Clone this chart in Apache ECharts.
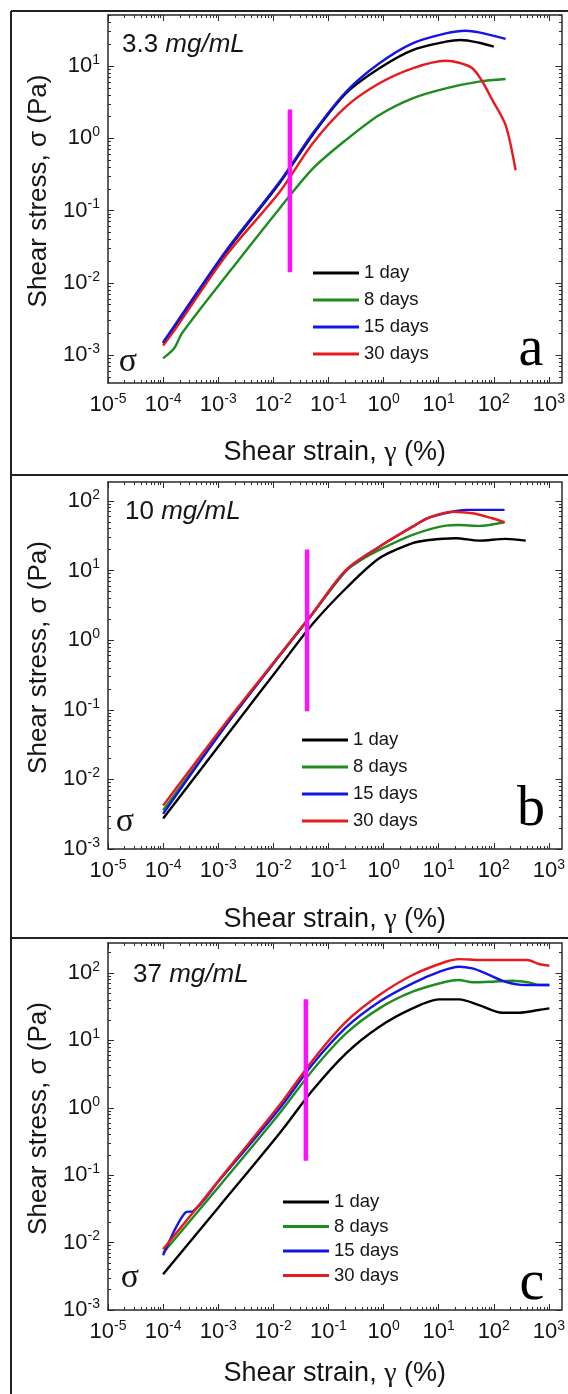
<!DOCTYPE html>
<html><head><meta charset="utf-8">
<script src="https://cdn.jsdelivr.net/npm/echarts@6/dist/echarts.min.js"></script>
<style>html,body{margin:0;padding:0;background:#fff}#c{width:568px;height:1394px}</style>
</head><body><div id="c"></div><script>
// ---------- data ----------
const seriesNames = ['1 day', '8 days', '15 days', '30 days'];
const panelTitles = ['3.3 ', '10 ', '37 '];
const panelLetters = ['a', 'b', 'c'];
const xTickValues = [1e-5, 1e-4, 1e-3, 1e-2, 1e-1, 1, 10, 100, 1000];
const yTickValuesA = [1e-3, 1e-2, 1e-1, 1, 10];
const yTickValuesB = [1e-3, 1e-2, 1e-1, 1, 10, 100];
const yTickValuesC = [1e-3, 1e-2, 1e-1, 1, 10, 100];
const xRange = [1e-5, 1700];
const yRangeA = [4.1e-4, 50.8];
const yRangeB = [1e-3, 187];
const yRangeC = [1e-3, 279];

// panel a (3.3 mg/mL)
const a1day = [[1e-4,1.45e-3],[1.8e-4,2.8e-3],[1.4e-3,0.027],[0.013,0.24],[0.052,1.12],[0.209,4.2],[0.84,9.3],[3.36,16.6],[13.5,21.7],[25,22.9],[54,21],[100,18.5]];
const a8days = [[1e-4,9e-4],[1.6e-4,1.25e-3],[2.2e-4,2.0e-3],[1.4e-3,0.0125],[0.013,0.107],[0.052,0.38],[0.209,0.95],[0.84,2.1],[3.36,3.57],[13.5,4.9],[54,6.07],[164,6.6]];
const a15days = [[1e-4,1.5e-3],[1.8e-4,2.9e-3],[1.4e-3,0.028],[0.013,0.25],[0.052,1.17],[0.209,4.4],[0.84,10.9],[3.36,20.6],[13.5,28.3],[31,30.8],[54,29.2],[164,23.7]];
const a30days = [[1e-4,1.35e-3],[1.8e-4,2.5e-3],[1.4e-3,0.024],[0.013,0.18],[0.052,0.85],[0.209,2.74],[0.84,5.76],[3.36,9.3],[13.5,11.8],[23.5,11.1],[41,9.3],[62,6.1],[94,3.4],[164,1.52],[249,0.36]];
const aMarker = [[0.02,0.014],[0.02,2.5]];

// panel b (10 mg/mL)
const b1day = [[1e-4,2.75e-3],[1.6e-3,0.048],[0.013,0.416],[0.052,1.72],[0.209,5.57],[0.84,15],[3.36,24.7],[6.7,27.5],[20.4,29.1],[54,26.9],[164,28.5],[380,26.9]];
const b8days = [[1e-4,3.6e-3],[1.6e-3,0.07],[0.013,0.6],[0.052,2.42],[0.209,9.9],[0.41,14.5],[0.84,19.8],[3.36,32.5],[13.5,44.2],[23.5,45],[54,43.8],[157,49.4]];
const b15days = [[1e-4,3.2e-3],[1.6e-3,0.07],[0.013,0.6],[0.052,2.42],[0.209,10.1],[0.84,22],[3.36,42.7],[6.7,57.5],[17.8,70],[31,74.3],[157,74.3]];
const b30days = [[1e-4,4.2e-3],[1.6e-3,0.076],[0.013,0.61],[0.052,2.45],[0.209,10.2],[0.84,22],[3.36,42.7],[6.7,57.5],[17.8,70],[41,66.5],[94,56.4],[157,49.4]];
const bMarker = [[0.041,0.095],[0.041,20]];

// panel c (37 mg/mL)
const c1day = [[1e-4,3.4e-3],[1e-3,0.033],[0.013,0.42],[0.052,1.84],[0.209,6.45],[0.84,16],[3.36,29.9],[10.2,40.7],[23.5,40.7],[54,33.5],[143,25.8],[286,25.8],[660,28.3],[1020,29.9]];
const c8days = [[1e-4,7e-3],[1e-3,0.066],[0.013,0.83],[0.052,3.64],[0.209,12.7],[0.84,29.9],[3.36,52.8],[13.5,74.3],[23.5,78.7],[41,72.8],[94,74.3],[216,76.9],[434,72.8],[660,66.4],[1020,66.4]];
const c15days = [[1e-4,6.5e-3],[2.6e-4,0.0283],[3.5e-4,0.0293],[1e-3,0.08],[0.013,0.98],[0.052,4.47],[0.209,15.6],[0.84,37.5],[3.36,70.3],[10.2,104],[23.5,124],[41,117],[71,99],[164,74],[380,66.4],[1020,66.4]];
const c30days = [[1e-4,8e-3],[3.5e-4,0.028],[1e-3,0.082],[0.013,1.1],[0.052,5.1],[0.209,19],[0.84,47.2],[3.36,93.4],[13.5,147],[23.5,161],[54,156],[216,156],[404,156],[660,136],[1020,128]];
const cMarker = [[0.039,0.164],[0.039,40.8]];

// ---------- layout / style ----------
const colors = {'1 day':'#000000','8 days':'#1e8c1e','15 days':'#1414e6','30 days':'#e81a1e'};
const SANS = 'Liberation Sans';
const SERIF = 'Liberation Serif';
const AX = '#2a2a2a';
const TXT = '#151515';

const panels = [
  {top:15,  height:368, yRange:yRangeA, yTicks:yTickValuesA, data:[a1day,a8days,a15days,a30days], order:[0,1,3,2], marker:aMarker,
   xNameGap:56, legend:{left:313, top:263, gap:7}, title:{x:122, y:45}, letter:{x:531, y:350}, sigma:{x:128, y:362}},
  {top:482, height:367, yRange:yRangeB, yTicks:yTickValuesB, data:[b1day,b8days,b15days,b30days], order:[0,1,2,3], marker:bMarker,
   xNameGap:57, legend:{left:302, top:730, gap:7}, title:{x:125, y:512}, letter:{x:531, y:810}, sigma:{x:125, y:822}},
  {top:943, height:367, yRange:yRangeC, yTicks:yTickValuesC, data:[c1day,c8days,c15days,c30days], order:[0,1,2,3], marker:cMarker,
   xNameGap:50, legend:{left:283, top:1192, gap:4.5}, title:{x:133, y:975}, letter:{x:532, y:1284}, sigma:{x:130, y:1278}}
];

function minorTicks(lo, hi) {
  const out = [];
  for (let d = -7; d <= 4; d++) for (let k = 2; k <= 9; k++) {
    const v = k * Math.pow(10, d);
    if (v >= lo && v <= hi) out.push(v);
  }
  return out;
}
const expFormatter = v => '{b|10}{s|' + Math.round(Math.log10(v)) + '}';
const labelRich = {
  b: {fontSize: 22, lineHeight: 26, fontFamily: SANS, color: TXT},
  s: {fontSize: 14, lineHeight: 14, verticalAlign: 'top', fontFamily: SANS, color: TXT}
};

const grid = [], xAxis = [], yAxis = [], series = [], legend = [], graphic = [];

panels.forEach((p, i) => {
  const rect = {left: 108, top: p.top, width: 454, height: p.height};
  grid.push(Object.assign({}, rect), Object.assign({}, rect));
  const gMain = 2 * i, gMinor = 2 * i + 1;
  const xMin = minorTicks(xRange[0], xRange[1]);
  const yMin = minorTicks(p.yRange[0], p.yRange[1]);
  const baseX = {type: 'log', min: xRange[0], max: xRange[1], splitLine: {show: false}};
  const baseY = {type: 'log', min: p.yRange[0], max: p.yRange[1], splitLine: {show: false}};
  const line = {show: true, lineStyle: {color: AX, width: 1.5}};
  // x axes
  xAxis.push(Object.assign({}, baseX, {
    gridIndex: gMain, position: 'bottom', axisLine: line,
    axisTick: {show: true, inside: true, length: 6, customValues: xTickValues, lineStyle: {color: AX, width: 1}},
    axisLabel: {show: true, customValues: xTickValues, formatter: expFormatter, rich: labelRich, margin: 9},
    name: 'Shear strain, {g|γ} (%)', nameLocation: 'middle', nameGap: p.xNameGap,
    nameTextStyle: {fontSize: 27, fontFamily: SANS, color: TXT, rich: {g: {fontSize: 28, fontFamily: SERIF, color: TXT}}}
  }));
  xAxis.push(Object.assign({}, baseX, {
    gridIndex: gMain, position: 'top', axisLine: line,
    axisTick: {show: true, inside: true, length: 6, customValues: xTickValues, lineStyle: {color: AX, width: 1}},
    axisLabel: {show: false}
  }));
  xAxis.push(Object.assign({}, baseX, {
    gridIndex: gMinor, position: 'bottom', axisLine: {show: false},
    axisTick: {show: true, inside: true, length: 3, customValues: xMin, lineStyle: {color: AX, width: 1}},
    axisLabel: {show: false}
  }));
  xAxis.push(Object.assign({}, baseX, {
    gridIndex: gMinor, position: 'top', axisLine: {show: false},
    axisTick: {show: true, inside: true, length: 3, customValues: xMin, lineStyle: {color: AX, width: 1}},
    axisLabel: {show: false}
  }));
  // y axes
  yAxis.push(Object.assign({}, baseY, {
    gridIndex: gMain, position: 'left', axisLine: line,
    axisTick: {show: true, inside: true, length: 6, customValues: p.yTicks, lineStyle: {color: AX, width: 1}},
    axisLabel: {show: true, customValues: p.yTicks, formatter: expFormatter, rich: labelRich, margin: 8},
    name: 'Shear stress, σ (Pa)', nameLocation: 'middle', nameGap: 50,
    nameTextStyle: {fontSize: 26, fontFamily: SANS, color: TXT, padding: [0, 0, 0, 16]}
  }));
  yAxis.push(Object.assign({}, baseY, {
    gridIndex: gMain, position: 'right', axisLine: line,
    axisTick: {show: true, inside: true, length: 6, customValues: p.yTicks, lineStyle: {color: AX, width: 1}},
    axisLabel: {show: false}
  }));
  yAxis.push(Object.assign({}, baseY, {
    gridIndex: gMinor, position: 'left', axisLine: {show: false},
    axisTick: {show: true, inside: true, length: 3, customValues: yMin, lineStyle: {color: AX, width: 1}},
    axisLabel: {show: false}
  }));
  yAxis.push(Object.assign({}, baseY, {
    gridIndex: gMinor, position: 'right', axisLine: {show: false},
    axisTick: {show: true, inside: true, length: 3, customValues: yMin, lineStyle: {color: AX, width: 1}},
    axisLabel: {show: false}
  }));
  // series
  p.order.forEach(k => {
    const nm = seriesNames[k];
    series.push({
      type: 'line', name: nm, xAxisIndex: 4 * i, yAxisIndex: 4 * i,
      data: p.data[k], showSymbol: false, symbol: 'none', smooth: 0.3,
      lineStyle: {color: colors[nm], width: 2.4}, itemStyle: {color: colors[nm]},
      z: 3
    });
  });
  series.push({
    type: 'line', name: 'marker' + i, xAxisIndex: 4 * i, yAxisIndex: 4 * i,
    data: p.marker, showSymbol: false, symbol: 'none',
    lineStyle: {color: '#ff10ff', width: 4.5}, z: 5
  });
  legend.push({
    data: seriesNames, orient: 'vertical', left: p.legend.left, top: p.legend.top,
    padding: 0, itemGap: p.legend.gap, itemWidth: 46, itemHeight: 3, icon: 'rect',
    textStyle: {fontSize: 18.5, lineHeight: 20, fontFamily: SANS, color: TXT}, selectedMode: false
  });
  graphic.push({
    type: 'text', x: p.title.x, y: p.title.y,
    style: {text: '{n|' + panelTitles[i] + '}{i|mg/mL}', verticalAlign: 'middle', align: 'left',
      rich: {n: {fontSize: 26, fontFamily: SANS, fill: TXT}, i: {fontSize: 26, fontFamily: SANS, fontStyle: 'italic', fill: TXT}}}
  });
  graphic.push({
    type: 'text', x: p.letter.x, y: p.letter.y,
    style: {text: panelLetters[i], fontSize: 56, fontFamily: SERIF, fill: '#000', align: 'center', verticalAlign: 'middle'}
  });
  graphic.push({
    type: 'text', x: p.sigma.x, y: p.sigma.y,
    style: {text: 'σ', fontSize: 34, fontFamily: SERIF, fill: TXT, align: 'center', verticalAlign: 'middle'}
  });
});

// panel frame lines
const frame = [[11, 11, 568, 11], [11, 11, 11, 1394], [11, 475, 568, 475], [11, 938, 568, 938]];
frame.forEach(f => graphic.push({
  type: 'line', shape: {x1: f[0], y1: f[1], x2: f[2], y2: f[3]},
  style: {stroke: '#222', lineWidth: 2}
}));

const chart = echarts.init(document.getElementById('c'), null, {renderer: 'canvas'});
chart.setOption({
  animation: false, backgroundColor: '#fff',
  grid, xAxis, yAxis, series, legend, graphic
});
</script></body></html>
